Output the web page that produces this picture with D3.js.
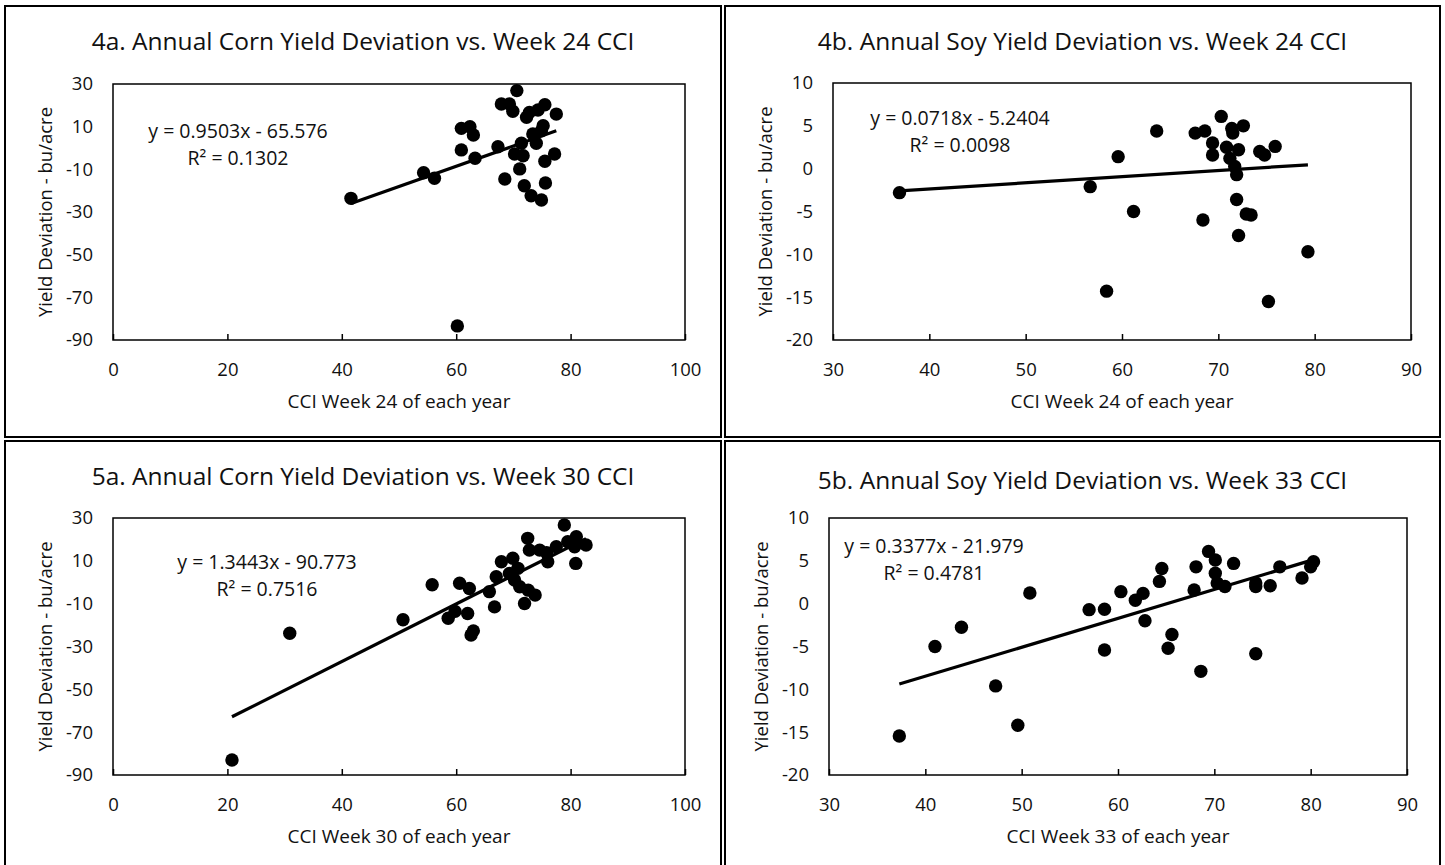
<!DOCTYPE html>
<html>
<head>
<meta charset="utf-8">
<script src="https://cdn.jsdelivr.net/npm/d3@7"></script>
<style>
  body { margin: 0; background: #fff; }
  svg text { font-family: "Open Sans", Roboto, sans-serif; fill: #111; }
</style>
</head>
<body>
<svg id="chart" width="1445" height="865"></svg>
<script>
// 4a: corn yield deviation vs week 24 CCI
var corn24Cci = [41.6, 54.3, 56.2, 60.2, 60.9, 62.4, 63.0, 60.9, 63.3, 70.6, 67.9, 69.3, 69.9,
  72.8, 72.3, 74.3, 75.5, 77.5, 75.2, 74.9, 73.4, 74.0, 67.3, 71.4, 70.2, 71.7, 77.2, 75.5,
  71.1, 68.5, 71.9, 75.6, 73.1, 74.9];
var corn24Dev = [-23.6, -11.6, -14.2, -83.4, 9.2, 10.0, 6.1, -0.9, -4.8, 26.9, 20.6, 20.6, 17.2,
  16.7, 14.4, 17.8, 20.3, 15.9, 10.4, 8.1, 6.6, 2.2, 0.6, 2.2, -2.8, -3.6, -2.8, -6.2,
  -9.8, -14.5, -17.7, -16.4, -22.4, -24.4];

// 4b: soy yield deviation vs week 24 CCI
var soy24Cci = [36.9, 56.7, 59.6, 63.6, 58.4, 61.2, 79.3, 75.2, 70.3, 67.6, 68.6, 71.4, 72.6,
  71.5, 69.4, 69.4, 70.85, 72.1, 71.2, 71.7, 71.9, 74.3, 74.8, 75.9, 71.9, 72.9, 73.4, 68.4, 72.1];
var soy24Dev = [-2.8, -2.1, 1.4, 4.4, -14.3, -5.0, -9.7, -15.5, 6.1, 4.15, 4.4, 4.7, 5.0,
  4.15, 3.0, 1.6, 2.5, 2.2, 1.2, 0.25, -0.7, 2.0, 1.6, 2.6, -3.6, -5.3, -5.4, -6.0, -7.8];

// 5a: corn yield deviation vs week 30 CCI
var corn30Cci = [20.8, 30.9, 50.7, 55.8, 58.6, 59.8, 60.6, 62.0, 62.3, 62.6, 63.0, 65.8, 66.7,
  67.0, 67.9, 69.3, 69.9, 70.2, 70.8, 71.1, 71.95, 72.6, 73.8, 72.5, 72.8, 74.6, 75.8, 76.0,
  77.5, 78.9, 79.5, 80.7, 81.0, 80.9, 82.7];
var corn30Dev = [-83.0, -23.8, -17.5, -1.2, -16.8, -13.6, -0.5, -14.6, -2.9, -24.6, -22.7, -4.4, -11.5,
  2.6, 9.6, 4.1, 11.2, 1.0, 6.5, -2.1, -9.9, -3.7, -6.0, 20.5, 15.0, 15.0, 13.8, 9.6,
  16.6, 26.7, 18.9, 16.6, 21.3, 8.8, 17.4];

// 5b: soy yield deviation vs week 33 CCI
var soy33Cci = [37.3, 41.0, 43.75, 47.3, 49.6, 50.85, 57.0, 58.6, 58.6, 60.3, 61.8, 62.6, 62.8,
  64.3, 64.55, 65.2, 65.6, 67.9, 68.1, 68.6, 69.4, 70.1, 70.1, 70.3, 71.1, 72.0, 74.3, 74.3,
  74.3, 75.8, 76.8, 79.1, 80.0, 80.3];
var soy33Dev = [-15.45, -5.0, -2.75, -9.6, -14.2, 1.25, -0.7, -0.65, -5.4, 1.4, 0.4, 1.2, -2.0,
  2.6, 4.1, -5.2, -3.6, 1.6, 4.3, -7.9, 6.1, 5.1, 3.55, 2.4, 2.0, 4.7, 2.0, 2.4,
  -5.85, 2.1, 4.3, 3.0, 4.3, 4.9];

var cornXTicks = [0, 20, 40, 60, 80, 100];
var cornYTicks = [-90, -70, -50, -30, -10, 10, 30];
var soyXTicks = [30, 40, 50, 60, 70, 80, 90];
var soyYTicks = [-20, -15, -10, -5, 0, 5, 10];

var panels = [
  { title: "4a. Annual Corn Yield Deviation vs. Week 24 CCI", xLabel: "CCI Week 24 of each year",
    xs: corn24Cci, ys: corn24Dev, slope: 0.9503, icpt: -65.576,
    eq: "y = 0.9503x - 65.576", r2: "R² = 0.1302",
    xTicks: cornXTicks, yTicks: cornYTicks,
    frame: [5, 6, 721, 437], plot: [113, 84, 685, 340], titleY: 50, eqAt: [238, 131] },
  { title: "4b. Annual Soy Yield Deviation vs. Week 24 CCI", xLabel: "CCI Week 24 of each year",
    xs: soy24Cci, ys: soy24Dev, slope: 0.0718, icpt: -5.2404,
    eq: "y = 0.0718x - 5.2404", r2: "R² = 0.0098",
    xTicks: soyXTicks, yTicks: soyYTicks,
    frame: [725, 6, 1440, 437], plot: [833, 83, 1411, 340], titleY: 50, eqAt: [960, 118] },
  { title: "5a. Annual Corn Yield Deviation vs. Week 30 CCI", xLabel: "CCI Week 30 of each year",
    xs: corn30Cci, ys: corn30Dev, slope: 1.3443, icpt: -90.773,
    eq: "y = 1.3443x - 90.773", r2: "R² = 0.7516",
    xTicks: cornXTicks, yTicks: cornYTicks,
    frame: [5, 441, 721, 880], plot: [113, 518, 685, 775], titleY: 485, eqAt: [267, 562] },
  { title: "5b. Annual Soy Yield Deviation vs. Week 33 CCI", xLabel: "CCI Week 33 of each year",
    xs: soy33Cci, ys: soy33Dev, slope: 0.3377, icpt: -21.979,
    eq: "y = 0.3377x - 21.979", r2: "R² = 0.4781",
    xTicks: soyXTicks, yTicks: soyYTicks,
    frame: [725, 441, 1440, 880], plot: [829, 518, 1407, 775], titleY: 489, eqAt: [934, 546] }
];

var svg = d3.select("#chart");
var plain = function(d) { return String(d); };   // hyphen minus, like the original

panels.forEach(function(p) {
  var f = p.frame, b = p.plot;
  var g = svg.append("g");

  // panel frame
  g.append("rect")
    .attr("x", f[0]).attr("y", f[1])
    .attr("width", f[2] - f[0]).attr("height", f[3] - f[1])
    .attr("fill", "none").attr("stroke", "#000").attr("stroke-width", 2);

  var x = d3.scaleLinear()
    .domain(d3.extent(p.xTicks))
    .range([b[0], b[2]]);
  var y = d3.scaleLinear()
    .domain(d3.extent(p.yTicks))
    .range([b[3], b[1]]);

  // title
  g.append("text")
    .attr("x", (f[0] + f[2]) / 2).attr("y", p.titleY)
    .attr("text-anchor", "middle")
    .attr("font-size", "24.5px")
    .text(p.title);

  // x axis: ticks point up into the plot
  var xAxis = g.append("g")
    .attr("transform", "translate(0," + b[3] + ")")
    .call(d3.axisBottom(x).tickValues(p.xTicks).tickFormat(plain)
      .tickSizeInner(-6).tickSizeOuter(0).tickPadding(23));
  xAxis.select(".domain").remove();
  xAxis.selectAll("line").attr("stroke", "#000").attr("stroke-width", 1.5);
  xAxis.selectAll("text").attr("font-size", "18.5px").attr("fill", "#111")
    .attr("font-family", "'Open Sans', sans-serif");

  // y axis: labels only
  var yAxis = g.append("g")
    .attr("transform", "translate(" + b[0] + ",0)")
    .call(d3.axisLeft(y).tickValues(p.yTicks).tickFormat(plain).tickSize(0).tickPadding(20));
  yAxis.select(".domain").remove();
  yAxis.selectAll("text").attr("font-size", "18.5px").attr("fill", "#111")
    .attr("font-family", "'Open Sans', sans-serif");

  // plot box
  g.append("rect")
    .attr("x", b[0]).attr("y", b[1])
    .attr("width", b[2] - b[0]).attr("height", b[3] - b[1])
    .attr("fill", "none").attr("stroke", "#000").attr("stroke-width", 1.5);

  // axis titles
  g.append("text")
    .attr("x", (b[0] + b[2]) / 2).attr("y", b[3] + 68)
    .attr("text-anchor", "middle")
    .attr("font-size", "19px")
    .text(p.xLabel);

  g.append("text")
    .attr("transform", "translate(" + (b[0] - 61) + "," + ((b[1] + b[3]) / 2) + ") rotate(-90)")
    .attr("text-anchor", "middle")
    .attr("font-size", "18.5px")
    .text("Yield Deviation - bu/acre");

  // points
  var pts = p.xs.map(function(v, i) { return [v, p.ys[i]]; });
  g.selectAll("circle")
    .data(pts)
    .enter()
    .append("circle")
      .attr("cx", function(d) { return x(d[0]); })
      .attr("cy", function(d) { return y(d[1]); })
      .attr("r", 6.7)
      .attr("fill", "#000");

  // linear trendline across the data range
  var ext = d3.extent(p.xs);
  var line = d3.line()
    .x(function(d) { return x(d); })
    .y(function(d) { return y(p.slope * d + p.icpt); });
  g.append("path")
    .datum(ext)
    .attr("d", line)
    .attr("fill", "none")
    .attr("stroke", "#000")
    .attr("stroke-width", 3.2);

  // equation + R2
  g.append("text")
    .attr("x", p.eqAt[0]).attr("y", p.eqAt[1] + 7)
    .attr("text-anchor", "middle")
    .attr("font-size", "19.5px")
    .text(p.eq);
  g.append("text")
    .attr("x", p.eqAt[0]).attr("y", p.eqAt[1] + 34)
    .attr("text-anchor", "middle")
    .attr("font-size", "19.5px")
    .text(p.r2);
});
</script>
</body>
</html>
